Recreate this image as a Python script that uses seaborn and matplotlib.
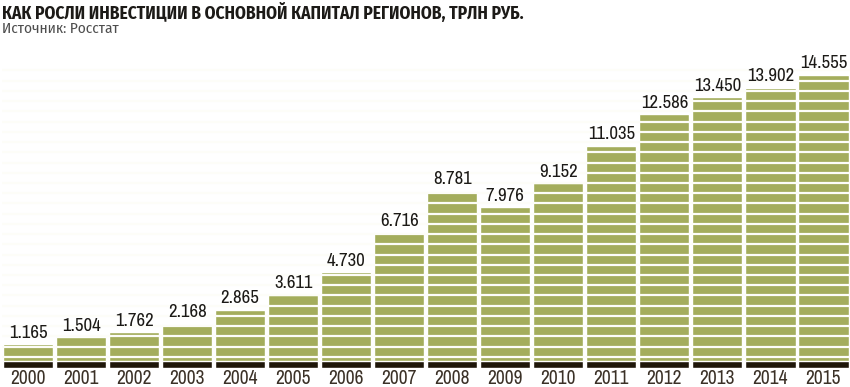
import numpy as np
import pandas as pd
import matplotlib
matplotlib.use("Agg")
import matplotlib.pyplot as plt
import seaborn as sns
from matplotlib import font_manager
from matplotlib.ft2font import FT2Font

# investment in fixed capital of regions, trln rub
years = ["2000", "2001", "2002", "2003", "2004", "2005", "2006", "2007",
         "2008", "2009", "2010", "2011", "2012", "2013", "2014", "2015"]
values = [1.165, 1.504, 1.762, 2.168, 2.865, 3.611, 4.730, 6.716,
          8.781, 7.976, 9.152, 11.035, 12.586, 13.450, 13.902, 14.555]

title = "КАК РОСЛИ ИНВЕСТИЦИИ В ОСНОВНОЙ КАПИТАЛ РЕГИОНОВ, ТРЛН РУБ."
source = "Источник: Росстат"

green = "#a4ad5c"
dark = "#1e1609"
stripe = "#fdfdf8"

sns.set_theme(style="white")


def has_cyrillic(path):
    try:
        return 0x041A in FT2Font(path).get_charmap()
    except Exception:
        return False


# narrow fonts, and the ones among them with cyrillic letters
entries = [f for f in font_manager.fontManager.ttflist
           if "Condensed" in f.name or "Narrow" in f.name]
narrow = sorted(set(f.name for f in entries))
narrow_cyr = sorted(set(f.name for f in entries if has_cyrillic(f.fname)))
digit_font = narrow[0] if narrow else "Roboto"
text_font = narrow_cyr[0] if narrow_cyr else "Roboto"
plt.rcParams['font.family'] = [digit_font, 'DejaVu Sans']

df = pd.DataFrame({"year": years, "value": values})

fig = plt.figure(figsize=(8.5, 3.87), dpi=100)
ax = fig.add_axes([0.0018, 19.5 / 387, 0.9982, (367.5 - 60) / 387])

sns.barplot(data=df, x="year", y="value", color=green, saturation=1,
            width=0.945, ax=ax, zorder=1)
# dark strip along the bottom of every bar
sns.barplot(data=df.assign(value=0.3), x="year", y="value", color=dark,
            saturation=1, width=0.945, ax=ax, zorder=3)

# white stripes across the bars
ax.set_ylim(0, 15.29)
ax.set_yticks(np.arange(0.53, 15.2, 0.5085))
ax.set_axisbelow(False)
ax.yaxis.grid(True, color=stripe, linewidth=1.6, zorder=2)
ax.xaxis.grid(False)
ax.tick_params(axis="y", left=False, labelleft=False)
ax.tick_params(axis="x", bottom=False, labelbottom=False)
ax.set_xlabel("")
ax.set_ylabel("")
ax.set_xlim(-0.5, len(years) - 0.5)
sns.despine(ax=ax, left=True, bottom=True)

# year labels under the bars
for i, yr in enumerate(years):
    ax.annotate(yr, (i, 0), xytext=(0, -11.6), textcoords="offset points",
                ha="center", va="baseline", fontsize=14, color="#3b3127",
                fontweight="light", annotation_clip=False)

for i, v in enumerate(values):
    ax.annotate(f"{v:.3f}", (i, v), xytext=(0, 2.5), textcoords="offset points",
                ha="center", va="bottom", fontsize=13.5, color="#1c1a17",
                fontweight="medium", zorder=5)

fig.text(0.002, 1 - 3 / 387, title, ha="left", va="top", fontsize=12.5,
         fontweight="bold", color="#1c1a17", family=[text_font, "DejaVu Sans"])
fig.text(0.002, 1 - 22 / 387, source, ha="left", va="top", fontsize=11,
         color="#4e4e4e", fontweight="normal", family=[text_font, "DejaVu Sans"])

fig.savefig("out.png", dpi=100)
